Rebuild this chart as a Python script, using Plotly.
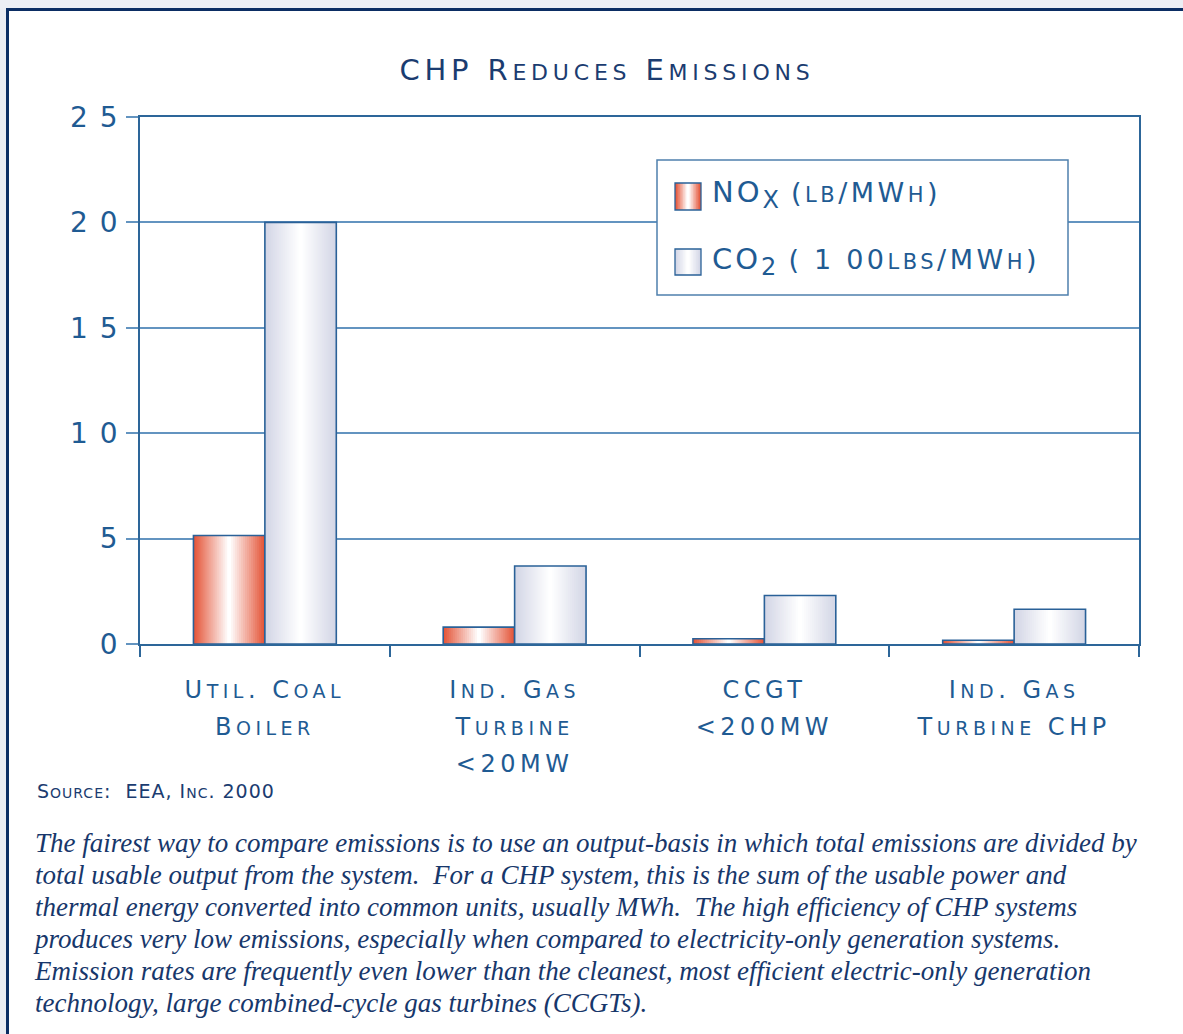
import plotly.graph_objects as go

# ---------------- data ----------------
categories = ["Util. Coal<br>Boiler", "Ind. Gas<br>Turbine<br><20MW", "CCGT<br><200MW", "Ind. Gas<br>Turbine CHP"]
nox = [5.15, 0.8, 0.25, 0.18]
co2 = [20.0, 3.7, 2.3, 1.65]
y_ticks = [0, 5, 10, 15, 20, 25]
title_text = "CHP Reduces Emissions"
legend_nox = ("NO", "X", " (lb/MWh)")
legend_co2 = ("CO", "2", " (100lbs/MWh)")
source_text = "Source:  EEA, Inc. 2000"
paragraph = [
    "The fairest way to compare emissions is to use an output-basis in which total emissions are divided by",
    "total usable output from the system.  For a CHP system, this is the sum of the usable power and",
    "thermal energy converted into common units, usually MWh.  The high efficiency of CHP systems",
    "produces very low emissions, especially when compared to electricity-only generation systems.",
    "Emission rates are frequently even lower than the cleanest, most efficient electric-only generation",
    "technology, large combined-cycle gas turbines (CCGTs).",
]

# ---------------- styling ----------------
FONT = "DejaVu Sans"
BLUE = "#1f5b93"
NAVY = "#1b3c70"
GRID = "#6394c0"
AXIS = "#2d6699"
NOX_EDGE = (228, 86, 58)
CO2_EDGE = (211, 214, 230)

W, H = 1183, 1034
PL, PR, PT, PB = 140, 1139, 117, 644


def X(px):
    return (px - PL) / (PR - PL)


def Y(py):
    return (PB - py) / (PB - PT)


def sc(text, big, small, ls=0):
    """small caps via spans"""
    lines = []
    for line in text.split("<br>"):
        runs = []
        for ch in line:
            s = ch.islower()
            c = ch.upper()
            if c == "<":
                c = "&lt;"
            if runs and runs[-1][0] == s:
                runs[-1][1] += c
            else:
                runs.append([s, c])
        lines.append("".join(
            f"<span style='font-size:{small if s else big}px;letter-spacing:{ls}px'>{t}</span>"
            for s, t in runs))
    return "<br>".join(lines)


def spaced_num(v, ls):
    s = str(v)
    if len(s) == 1:
        return s
    return f"<span style='letter-spacing:{ls}px'>{s[:-1]}</span>{s[-1]}"


def mix(c, t):
    r, g, b = [int(round(v + (255 - v) * t)) for v in c]
    return f"rgb({r},{g},{b})"


fig = go.Figure()
BW = 0.286
N = 18
for vals, edge, center in [(nox, NOX_EDGE, -BW / 2), (co2, CO2_EDGE, BW / 2)]:
    for k in range(N):
        f = 1 - k / N
        t = k / (N - 1)
        fig.add_trace(go.Bar(
            x=categories, y=vals, width=BW * f, offset=center - BW * f / 2,
            marker=dict(color=mix(edge, t), line=dict(width=0)),
            showlegend=False, hoverinfo="skip"))
    fig.add_trace(go.Bar(
        x=categories, y=vals, width=BW, offset=center - BW / 2,
        marker=dict(color="rgba(0,0,0,0)", line=dict(width=1.6, color="#2a6198")),
        showlegend=False, hoverinfo="skip"))

shapes = []
# page frame
shapes.append(dict(type="rect", xref="paper", yref="paper", x0=X(0), x1=X(6.5), y0=Y(H), y1=Y(0),
                   fillcolor="#eaecf2", line=dict(width=0), layer="above"))
shapes.append(dict(type="rect", xref="paper", yref="paper", x0=X(0), x1=X(W), y0=Y(8.5), y1=Y(0),
                   fillcolor="#eceef4", line=dict(width=0), layer="above"))
shapes.append(dict(type="line", xref="paper", yref="paper", x0=X(7.5), x1=X(7.5), y0=Y(H), y1=Y(8),
                   line=dict(color="#0b2d63", width=3)))
shapes.append(dict(type="line", xref="paper", yref="paper", x0=X(6), x1=X(W), y0=Y(9.5), y1=Y(9.5),
                   line=dict(color="#0b2d63", width=3)))
# legend box
shapes.append(dict(type="rect", xref="paper", yref="paper", x0=X(657), x1=X(1068), y0=Y(295), y1=Y(160),
                   fillcolor="white", line=dict(color="#4f80ad", width=1.5), layer="above"))
# legend swatches
for (x0, x1, y0, y1), edge in [((675, 701, 183, 210), NOX_EDGE), ((675, 701, 249, 275), CO2_EDGE)]:
    n = 8
    cx = (x0 + x1) / 2
    hw = (x1 - x0) / 2
    for k in range(n):
        f = 1 - k / n
        shapes.append(dict(type="rect", xref="paper", yref="paper",
                           x0=X(cx - hw * f), x1=X(cx + hw * f), y0=Y(y1), y1=Y(y0),
                           fillcolor=mix(edge, k / (n - 1)), line=dict(width=0), layer="above"))
    shapes.append(dict(type="rect", xref="paper", yref="paper", x0=X(x0), x1=X(x1), y0=Y(y1), y1=Y(y0),
                       fillcolor="rgba(0,0,0,0)", line=dict(color="#2a6198", width=1.3), layer="above"))

annotations = []
for (a, sub, rest), py in [(legend_nox, 195), (legend_co2, 261)]:
    rest_html = sc(rest, 27, 21, 3.5)
    if "100" in rest:
        rest_html = rest_html.replace("(1", "<span style='letter-spacing:15px'>(1</span>")
    txt = (f"<span style='font-size:29px;letter-spacing:3px'>{a}</span>"
           f"<sub><span style='font-size:24px'>{sub}</span></sub>"
           + rest_html)
    annotations.append(dict(xref="paper", yref="paper", x=X(710), y=Y(py), xanchor="left", yanchor="middle",
                            text=txt, showarrow=False, font=dict(family=FONT, color=BLUE, size=27)))
annotations.append(dict(xref="paper", yref="paper", x=X(35), y=Y(791), xanchor="left", yanchor="middle",
                        text=sc(source_text, 19, 14, 1.0), showarrow=False,
                        font=dict(family=FONT, color=NAVY, size=19)))
annotations.append(dict(xref="paper", yref="paper", x=X(31), y=Y(826), xanchor="left", yanchor="top",
                        text="<br>".join(f"<span style='font-size:27px'>{p}</span>" for p in paragraph),
                        align="left", showarrow=False,
                        font=dict(family="Liberation Serif", color="#17376b", size=24.6, style="italic")))

fig.update_layout(
    width=W, height=H,
    margin=dict(l=PL, r=W - PR, t=PT, b=H - PB),
    paper_bgcolor="white", plot_bgcolor="white",
    barmode="overlay",
    title=dict(text=sc(title_text, 29, 22, 4.8), x=607 / W, xanchor="center", y=1 - 70 / H, yanchor="middle",
               font=dict(family=FONT, color=NAVY, size=29)),
    xaxis=dict(type="category", showline=True, linecolor=AXIS, linewidth=1.6, mirror=True,
               ticks="outside", tickson="boundaries", ticklen=11, tickcolor=AXIS, tickwidth=1.6,
               showgrid=False, tickvals=categories, ticktext=[sc(c, 24, 19, 4.5) for c in categories],
               tickfont=dict(family=FONT, color=BLUE, size=28.5), tickangle=0, ticklabelstandoff=18),
    yaxis=dict(range=[0, 25], tickvals=y_ticks, ticktext=[spaced_num(v, 12) for v in y_ticks],
               showline=True, linecolor=AXIS, linewidth=1.6, mirror=True,
               ticks="outside", ticklen=12, tickcolor=GRID, tickwidth=1.6,
               showgrid=True, gridcolor=GRID, gridwidth=1.5, zeroline=False, ticklabelstandoff=3,
               tickfont=dict(family=FONT, color=BLUE, size=28)),
    shapes=shapes, annotations=annotations,
    showlegend=False,
)

fig.write_html("out.html", config={"displayModeBar": False},
               post_script="document.body.style.margin='0';document.body.style.overflow='hidden';")
